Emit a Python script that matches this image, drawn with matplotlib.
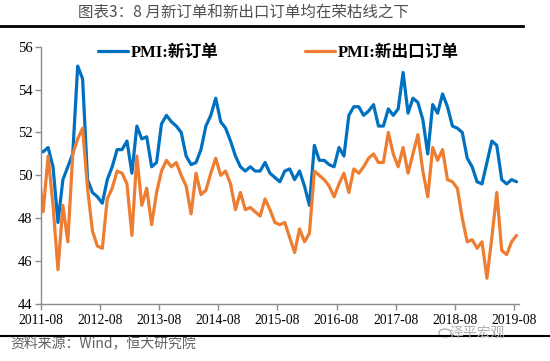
import matplotlib
matplotlib.use("Agg")
import matplotlib.pyplot as plt
import numpy as np
import pandas as pd

# monthly categories 2011-07 .. 2019-08 (first month sits just left of the axis)
months = pd.period_range("2011-07", "2019-08", freq="M").strftime("%Y-%m").tolist()

new_orders = [
    51.1,                                   # 2011-07
    51.1, 51.3, 50.4, 47.8, 49.8,           # 2011-08..12
    50.4, 51.0, 55.1, 54.5, 49.8, 49.2, 49.0, 48.7, 49.8, 50.4, 51.2, 51.2,  # 2012
    51.6, 50.1, 52.3, 51.7, 51.8, 50.4, 50.6, 52.4, 52.8, 52.5, 52.3, 52.0,  # 2013
    50.9, 50.5, 50.6, 51.2, 52.3, 52.8, 53.6, 52.5, 52.2, 51.6, 50.9, 50.4,  # 2014
    50.2, 50.4, 50.2, 50.2, 50.6, 50.1, 49.9, 49.7, 50.2, 50.3, 49.8, 50.2,  # 2015
    49.5, 48.6, 51.4, 50.7, 50.7, 50.5, 50.4, 51.3, 50.9, 52.8, 53.2, 53.2,  # 2016
    52.8, 53.0, 53.3, 52.3, 52.3, 53.1, 52.8, 53.1, 54.8, 52.9, 53.6, 53.4,  # 2017
    52.6, 51.0, 53.3, 52.9, 53.8, 53.2, 52.3, 52.2, 52.0, 50.8, 50.4, 49.7,  # 2018
    49.6, 50.6, 51.6, 51.4, 49.8, 49.6, 49.8, 49.7,                          # 2019
]
new_export_orders = [
    50.4,                                   # 2011-07
    48.3, 50.9, 48.6, 45.6, 48.6,           # 2011-08..12
    46.9, 51.0, 51.7, 52.2, 49.4, 47.4, 46.7, 46.6, 48.9, 49.4, 50.2, 50.1,  # 2012
    49.6, 47.2, 50.9, 48.6, 49.4, 47.7, 49.2, 50.2, 50.7, 50.4, 50.6, 50.0,  # 2013
    49.5, 48.2, 50.1, 49.1, 49.3, 50.1, 50.8, 50.0, 50.2, 49.6, 48.4, 49.2,  # 2014
    48.4, 48.5, 48.3, 48.1, 48.9, 48.4, 47.8, 47.7, 47.8, 47.1, 46.4, 47.5,  # 2015
    46.9, 47.3, 50.2, 50.0, 49.8, 49.5, 49.0, 49.6, 50.1, 49.2, 50.3, 50.1,  # 2016
    50.4, 50.8, 51.0, 50.6, 50.6, 52.0, 51.0, 50.4, 51.3, 50.1, 51.0, 51.9,  # 2017
    50.2, 49.0, 51.3, 50.7, 51.2, 49.8, 49.7, 49.4, 48.0, 46.9, 47.0, 46.6,  # 2018
    46.9, 45.2, 47.1, 49.2, 46.5, 46.3, 46.9, 47.2,                          # 2019
]
tick_labels = ["2011-08", "2012-08", "2013-08", "2014-08", "2015-08",
               "2016-08", "2017-08", "2018-08", "2019-08"]
series_names = ["PMI:新订单", "PMI:新出口订单"]
title = "图表3：8 月新订单和新出口订单均在荣枯线之下"
source = "资料来源：Wind，恒大研究院"

BLUE = "#0070C0"
ORANGE = "#ED7D31"
GREY = "#808080"

fig = plt.figure(figsize=(5.5, 3.61), dpi=100)
ax = fig.add_axes([0.0740, 0.1579, 0.8696, 0.7127])

# category centres: 2011-08 at 0.5
x = np.arange(len(months)) - 0.5
ax.plot(x, new_orders, color=BLUE, lw=2.3, solid_joinstyle="round",
        solid_capstyle="round", label=series_names[0])
ax.plot(x, new_export_orders, color=ORANGE, lw=2.3, solid_joinstyle="round",
        solid_capstyle="round", label=series_names[1])

ax.set_xlim(0, 97)
ax.set_ylim(44, 56)
ax.set_yticks(np.arange(44, 57, 2))
tick_pos = [months.index(t) - 1 for t in tick_labels]
ax.set_xticks(tick_pos)
ax.set_xticklabels(tick_labels)

serif = ["Liberation Serif", "Noto Sans CJK SC"]
for lab in ax.get_xticklabels():
    lab.set_fontfamily(serif)
    lab.set_fontsize(9.8)
for lab in ax.get_yticklabels():
    lab.set_fontfamily(serif)
    lab.set_fontsize(10.5)

for s in ["top", "right"]:
    ax.spines[s].set_visible(False)
for s in ["left", "bottom"]:
    ax.spines[s].set_color("#8c8c8c")
    ax.spines[s].set_linewidth(1.0)
ax.tick_params(axis="both", colors="#8c8c8c", labelcolor="black",
               direction="out", length=4, width=1.0)
ax.tick_params(axis="x", pad=3)
ax.tick_params(axis="y", pad=2)

leg = ax.legend(loc="center", bbox_to_anchor=(0.497, 0.975), ncol=2,
                frameon=False, handlelength=1.8, handletextpad=0.15,
                columnspacing=5.2,
                prop={"family": serif, "weight": "bold", "size": 12})

# title and rules
fig.text(0.4425, 0.965, title, ha="center", va="center", fontsize=11.2,
         color="#505050", family=["Noto Sans CJK SC", "DejaVu Sans"])
fig.add_artist(plt.Line2D([0.0, 0.95], [1 - 25.5 / 361] * 2, color="black",
                          lw=2.0, transform=fig.transFigure))
fig.add_artist(plt.Line2D([0.0, 1.0], [1 - 335.5 / 361] * 2, color="black",
                          lw=1.5, transform=fig.transFigure))
fig.text(10 / 550, 1 - 343 / 361, source, ha="left", va="center",
         fontsize=10, color="#606060", style="italic",
         family=["Noto Sans CJK SC", "DejaVu Sans"])
# watermark
fig.text(505 / 550, 1 - 333 / 361, "泽平宏观", ha="right", va="center",
         fontsize=10, color="#b0b0b0", family=["Noto Sans CJK SC", "DejaVu Sans"])
fig.add_artist(matplotlib.patches.Circle((445 / 550, 1 - 333 / 361), 0.011,
                                         transform=fig.transFigure,
                                         fill=False, ec="#b0b0b0", lw=1.0))

fig.savefig("out.png", dpi=100)
